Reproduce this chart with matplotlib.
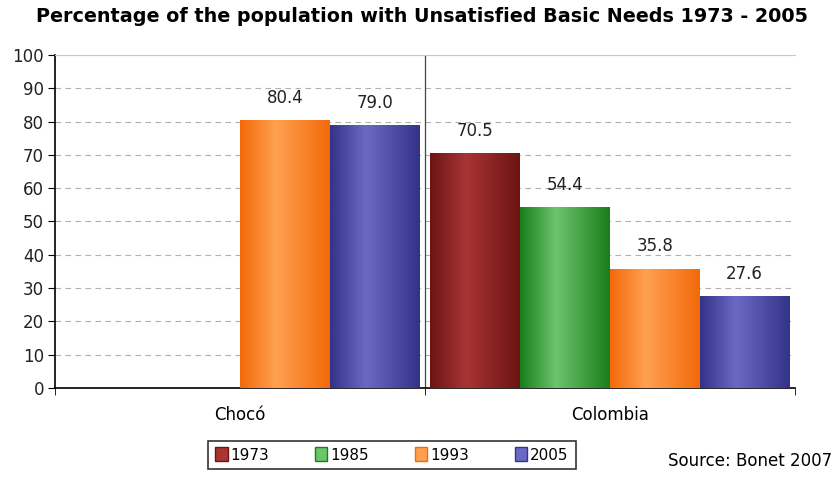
import matplotlib.pyplot as plt
import numpy as np
from matplotlib.colors import LinearSegmentedColormap

plt.rcParams['font.family'] = ['DejaVu Sans']

regions = ['Chocó', 'Colombia']
years = ['1973', '1985', '1993', '2005']
values = {
    '1973': [np.nan, 70.5],
    '1985': [np.nan, 54.4],
    '1993': [80.4, 35.8],
    '2005': [79.0, 27.6],
}
# (edge, middle) colours for the shaded bars
shades = {
    '1973': ('#6e1414', '#a83434'),
    '1985': ('#1a7f1a', '#6cc46c'),
    '1993': ('#f26a0a', '#ffa050'),
    '2005': ('#33338a', '#6a6ac4'),
}

fig = plt.figure(figsize=(8.34, 4.83), dpi=100)
ax = fig.add_axes([0.066, 0.197, 0.887, 0.689])

x = np.arange(len(regions))
w = 0.243
grad = np.interp(np.linspace(0, 1, 64), [0, 0.4, 1], [0, 1, 0])[None, :]

for i, yr in enumerate(years):
    pos = x + (i - 1.5) * w
    bars = ax.bar(pos, values[yr], w, color=shades[yr][0], edgecolor='none', zorder=2)
    cmap = LinearSegmentedColormap.from_list(yr, [shades[yr][0], shades[yr][1]])
    for b, v in zip(bars, values[yr]):
        if np.isnan(v):
            continue
        x0, y0 = b.get_x(), b.get_y()
        im = ax.imshow(grad, cmap=cmap, aspect='auto', zorder=3,
                       extent=[x0, x0 + b.get_width(), y0, y0 + b.get_height()])
        im.set_clip_path(b)
        ax.text(b.get_x() + b.get_width() / 2, v + 4, f'{v:.1f}',
                ha='center', va='bottom', fontsize=12, color='#222222', zorder=4)

ax.set_xlim(-0.5, 1.5)
ax.set_ylim(0, 100)
ax.set_yticks(np.arange(0, 101, 10))
ax.yaxis.grid(True, linestyle=(0, (5, 4)), color='#b0b0b0', linewidth=0.8)
ax.set_axisbelow(True)
ax.axvline(0.5, color='#444444', linewidth=0.9, zorder=1)

ax.set_xticks(x)
ax.set_xticklabels(regions, fontsize=12)
ax.tick_params(axis='x', length=0, pad=13)
ax.set_xticks([-0.5, 0.5, 1.5], minor=True)
ax.tick_params(axis='x', which='minor', length=5, direction='out', color='black')
ax.tick_params(axis='y', labelsize=12, length=5, direction='out', pad=3, labelcolor='#222222')

ax.spines['top'].set_color('#c8c8c8')
ax.spines['right'].set_visible(False)
ax.spines['left'].set_linewidth(1.2)
ax.spines['bottom'].set_linewidth(1.2)

fig.text(0.506, 0.965, 'Percentage of the population with Unsatisfied Basic Needs 1973 - 2005',
         ha='center', va='center', fontsize=13.8, fontweight='bold')

handles = [plt.Rectangle((0, 0), 1, 1, facecolor=shades[yr][1], edgecolor=shades[yr][0])
           for yr in years]
leg = fig.legend(handles, years, loc='center', bbox_to_anchor=(0.47, 0.058), ncol=4,
                 frameon=True, fontsize=11, handlelength=0.8, handleheight=1.0,
                 handletextpad=0.2, columnspacing=3.0, borderpad=0.45, fancybox=False)
leg.get_frame().set_edgecolor('black')
leg.get_frame().set_linewidth(1.2)

fig.text(0.998, 0.027, 'Source: Bonet 2007', ha='right', va='bottom', fontsize=12)

fig.savefig('out.png', dpi=100)
